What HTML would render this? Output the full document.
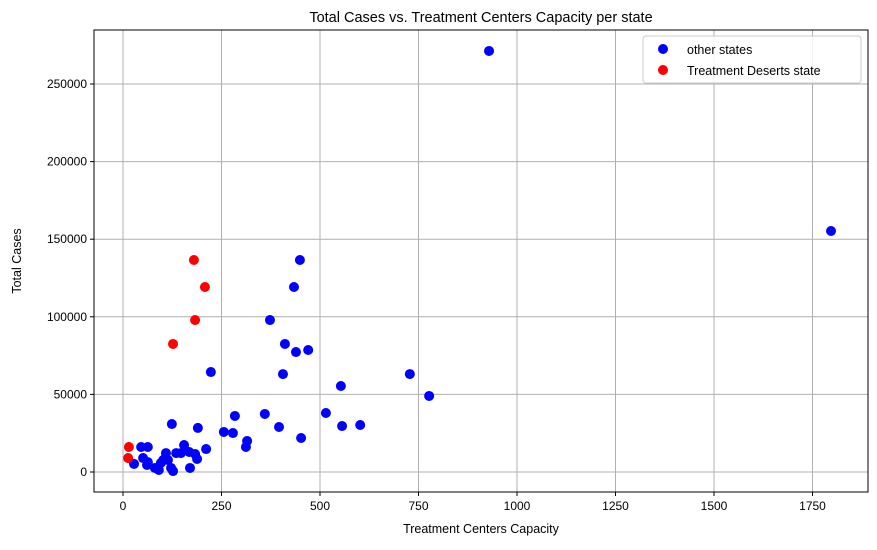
<!DOCTYPE html>
<html><head><meta charset="utf-8"><style>
body{margin:0;background:#fff;font-family:"Liberation Sans","DejaVu Sans",sans-serif}
svg text{font-family:"Liberation Sans","DejaVu Sans",sans-serif;fill:#000}
</style></head><body>
<svg id="chart" width="877" height="545">
<g id="grid"></g>
<g id="ticks"></g>
<g id="pts"></g>
<rect x="94" y="30" width="774" height="462" fill="none" stroke="#000" stroke-width="1"/>
<text x="481" y="22" font-size="14.5" text-anchor="middle">Total Cases vs. Treatment Centers Capacity per state</text>
<text x="481" y="533" font-size="12.5" text-anchor="middle">Treatment Centers Capacity</text>
<text x="21" y="261" font-size="12.5" text-anchor="middle" transform="rotate(-90 21 261)">Total Cases</text>
<g>
<rect x="643" y="36" width="218" height="47" rx="3" fill="#fff" fill-opacity="0.85" stroke="#ccc"/>
<circle cx="663" cy="49" r="5" fill="blue"/>
<text x="687" y="54" font-size="12.5">other states</text>
<circle cx="663" cy="70" r="5" fill="red"/>
<text x="687" y="75" font-size="12.5">Treatment Deserts state</text>
</g>
</svg>
<script>
const otherX=[223,406,553,46,63,124,190,284,360,256,279,396,515,556,602,452,315,312,155,211,109,135,147,168,183,188,51,63,28,61,102,114,96,81,91,122,127,170,449,434,373,411,439,470,728,777,929,1797];
const otherY=[64400,63100,55400,16100,16100,30900,28400,36100,37400,25800,25100,29000,38000,29600,30300,21900,20000,16100,17400,14800,12200,12200,12200,12900,11600,8400,9000,6400,5200,4500,7700,7700,5800,2600,1300,2600,600,2600,136600,119200,97900,82500,77300,78600,63100,49000,271300,155300];
const desertX=[15,13,180,208,183,127];
const desertY=[16100,9000,136600,119200,97900,82500];
const xTicks=[0,250,500,750,1000,1250,1500,1750];
const yTicks=[0,50000,100000,150000,200000,250000];
const NS='http://www.w3.org/2000/svg';
function sx(v){return 123+v*0.394;}
function sy(v){return 472-v*0.001552;}
function mk(t,a,p){const e=document.createElementNS(NS,t);for(const k in a)e.setAttribute(k,a[k]);p.appendChild(e);return e;}
const grid=document.getElementById('grid'),ticks=document.getElementById('ticks'),pts=document.getElementById('pts');
xTicks.forEach(v=>{const x=sx(v);
 const g=mk('line',{x1:x,x2:x,y1:30,y2:492,stroke:'#b0b0b0','stroke-width':1},grid);
 
 
 const t=mk('line',{x1:x,x2:x,y1:492,y2:496,stroke:'#000'},ticks);
 
 
 const l=mk('text',{x:x,y:510,'font-size':12,'text-anchor':'middle'},ticks);l.textContent=v;
 
 
});
yTicks.forEach(v=>{const y=sy(v);
 const g=mk('line',{x1:94,x2:868,y1:y,y2:y,stroke:'#b0b0b0','stroke-width':1},grid);
 
 
 const t=mk('line',{x1:90,x2:94,y1:y,y2:y,stroke:'#000'},ticks);
 
 
 const l=mk('text',{x:87,y:y+4,'font-size':12,'text-anchor':'end'},ticks);l.textContent=v;
 
 
});
otherX.forEach((v,i)=>{const c=mk('circle',{cx:sx(v),cy:sy(otherY[i]),r:5,fill:'blue'},pts);
 
 });
desertX.forEach((v,i)=>{const c=mk('circle',{cx:sx(v),cy:sy(desertY[i]),r:5,fill:'red'},pts);
 
 });
</script>
</body></html>
